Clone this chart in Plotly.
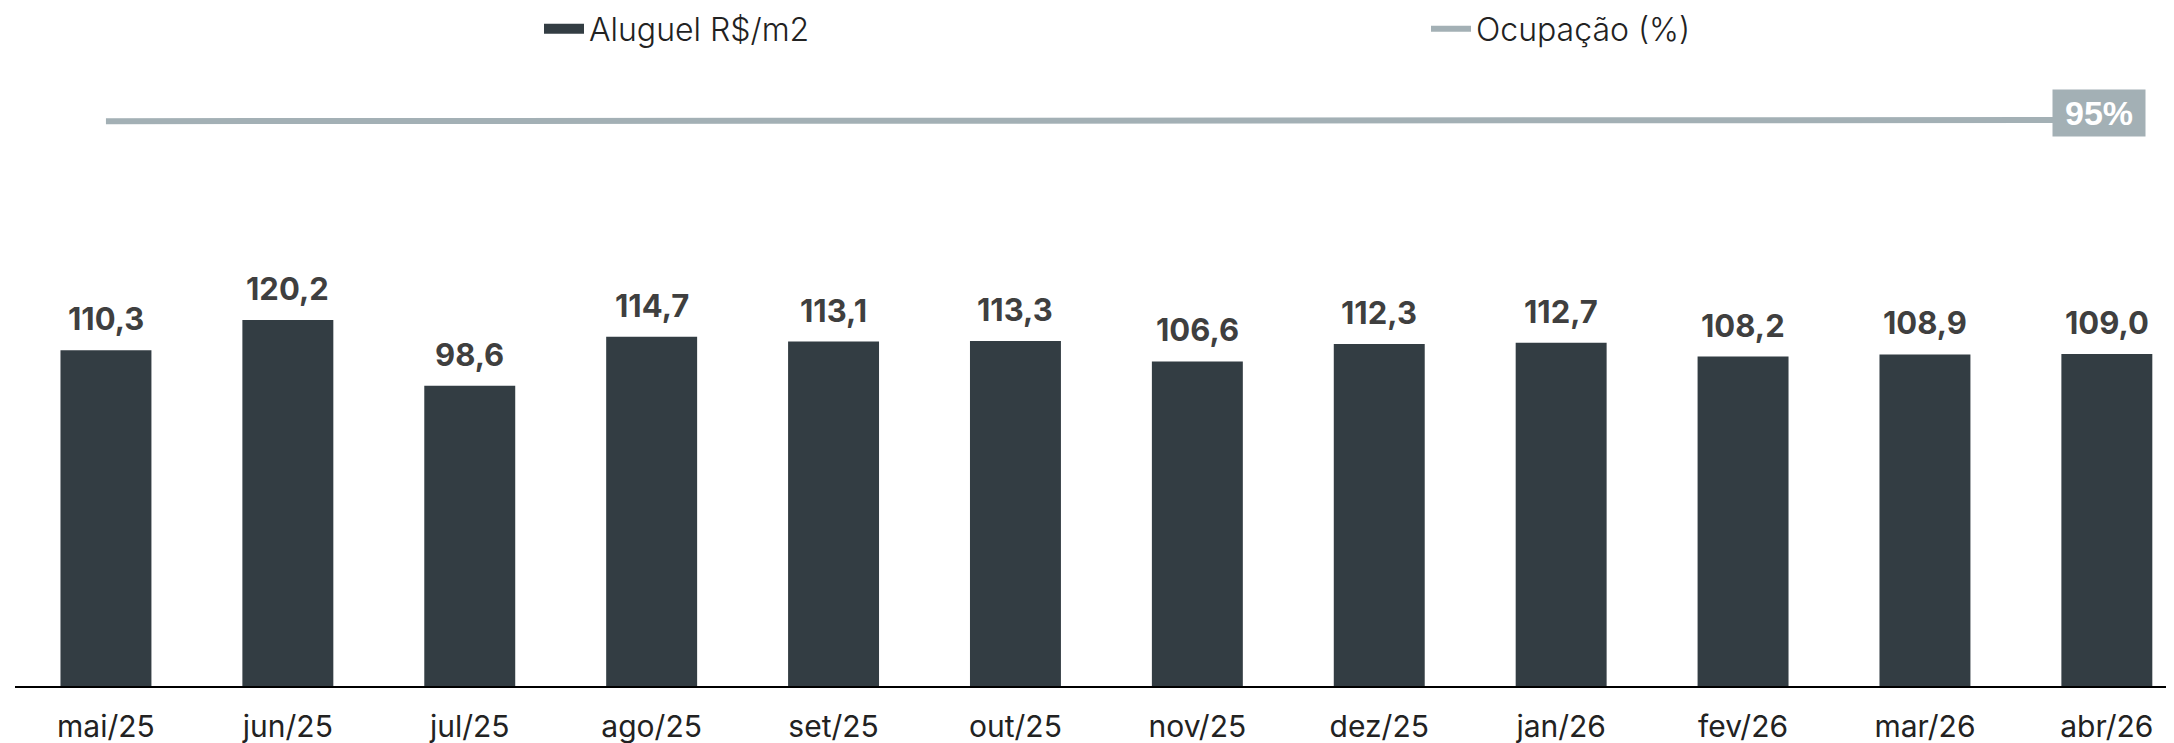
import plotly.graph_objects as go

categories = ["mai/25", "jun/25", "jul/25", "ago/25", "set/25", "out/25",
              "nov/25", "dez/25", "jan/26", "fev/26", "mar/26", "abr/26"]
aluguel = [110.3, 120.2, 98.6, 114.7, 113.1, 113.3, 106.6, 112.3, 112.7, 108.2, 108.9, 109.0]
ocupacao = [94.8, 94.8, 94.8, 94.8, 94.8, 94.8, 94.8, 94.8, 94.8, 95.0, 95.0, 95.0]

BAR_COLOR = "#333d43"
LINE_COLOR = "#a3b0b5"
FONT = "Inter"

xs = list(range(len(categories)))
W, H = 2174, 743
ML, MT, MB = 7, 42, 65
PW = W - ML
STEP = 181.9

fig = go.Figure()
# legend-only entry for the bars (bigger swatch)
fig.add_trace(go.Scatter(
    x=[None], y=[None], name="Aluguel R$/m2", mode="lines",
    line=dict(color=BAR_COLOR, width=19), showlegend=True, hoverinfo="skip",
))
fig.add_trace(go.Bar(
    x=xs, y=aluguel, name="Aluguel R$/m2", showlegend=False,
    marker=dict(color=BAR_COLOR, line=dict(width=0)), width=0.5,
    hoverinfo="skip",
))
fig.add_trace(go.Scatter(
    x=xs, y=ocupacao, name="Ocupação (%)", yaxis="y2",
    mode="lines", line=dict(color=LINE_COLOR, width=6), hoverinfo="skip",
))

annotations = []
for i, v in enumerate(aluguel):
    annotations.append(dict(
        x=i, y=v, xref="x", yref="y", text=f"{v:.1f}".replace(".", ","),
        showarrow=False, yanchor="bottom", yshift=11,
        font=dict(family=FONT, size=31, color="#3f3f3f", weight=700),
    ))
annotations.append(dict(
    x=len(ocupacao) - 1, y=ocupacao[-1], xref="x", yref="y2",
    text=f"{ocupacao[-1]:.0f}%", showarrow=False,
    bgcolor=LINE_COLOR, borderpad=4, width=84, height=38,
    xshift=-8, yshift=7,
    font=dict(family="Liberation Sans", size=34, color="white", weight=700),
))

fig.update_layout(
    width=W, height=H,
    margin=dict(l=ML, r=0, t=MT, b=MB, autoexpand=False),
    paper_bgcolor="white", plot_bgcolor="white",
    showlegend=True,
    legend=dict(
        orientation="h", x=531 / W, xref="container", xanchor="left",
        y=1 - 21 / H, yref="container", yanchor="middle",
        font=dict(family=FONT, size=32, color="#222222", weight=300),
        entrywidth=832, entrywidthmode="pixels",
        itemwidth=40, bgcolor="rgba(0,0,0,0)",
    ),
    xaxis=dict(
        tickmode="array", tickvals=xs, ticktext=categories,
        range=[-0.5, -0.5 + PW / STEP],
        showgrid=False, zeroline=False, automargin=False,
        showline=True, linecolor="black", linewidth=2,
        ticks="", ticklabelstandoff=13,
        tickfont=dict(family=FONT, size=30, color="#222222"),
    ),
    yaxis=dict(range=[0, 636 / 3.045], visible=False, showgrid=False, zeroline=False),
    yaxis2=dict(range=[0, 106.75], overlaying="y", visible=False, showgrid=False, zeroline=False),
    annotations=annotations,
    bargap=0.5,
)

fig.write_html("out.html")
